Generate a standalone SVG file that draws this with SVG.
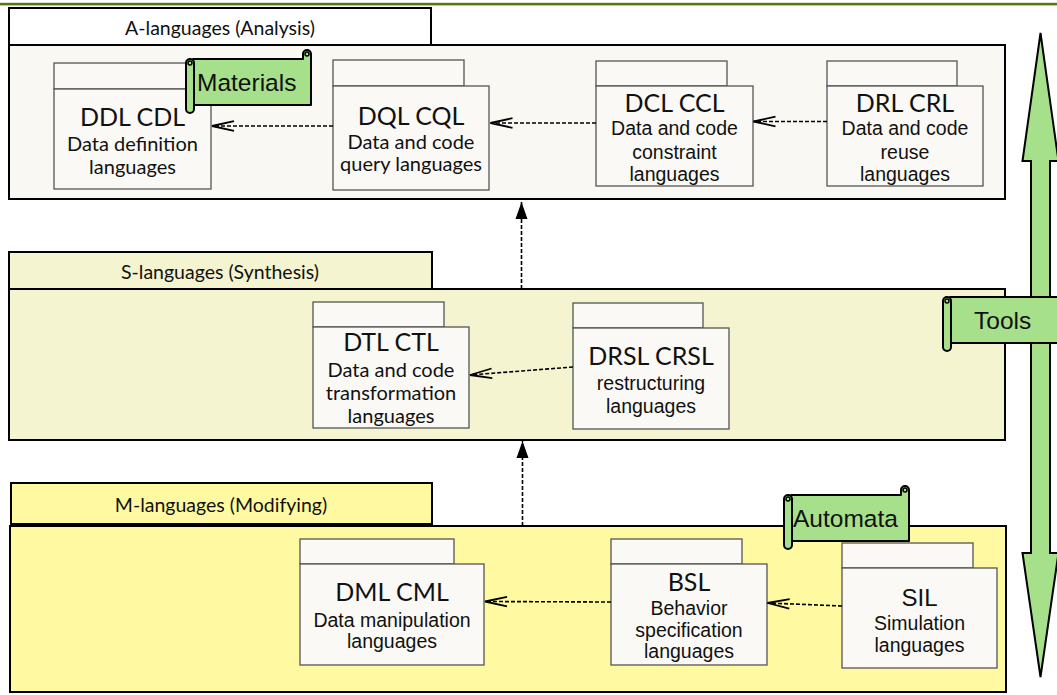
<svg xmlns="http://www.w3.org/2000/svg" width="1057" height="695" viewBox="0 0 1057 695">
<defs>
<style>
.pkg{stroke:#000;stroke-width:2}
.pa{fill:#f9f8f3}.pat{fill:#ffffff}
.ps{fill:#f4f4d0}
.pm{fill:#fffaa2}
.nd{fill:#faf9f5;stroke:#555;stroke-width:1.3}
.ptitle{font-family:Lato,"Liberation Sans",sans-serif;font-size:19.5px;fill:#111;text-anchor:middle}
.ntitle{font-family:Lato,"Liberation Sans",sans-serif;font-size:25px;fill:#111;text-anchor:middle}
.subl{font-family:Lato,"Liberation Sans",sans-serif;font-size:20px;fill:#111;text-anchor:middle}
.suba{font-family:"Liberation Sans",Arial,sans-serif;font-size:19.5px;fill:#111;text-anchor:middle}
.scr{fill:#a6e08b;stroke:#000;stroke-width:2;stroke-linejoin:round}
.scrt{font-family:"Liberation Sans",Arial,sans-serif;font-size:24.5px;fill:#111}
.dash{fill:none;stroke:#000;stroke-width:1.6;stroke-dasharray:4 2}
</style>
<marker id="open" viewBox="-25 -7 27 14" refX="0" refY="0" markerWidth="27" markerHeight="14" markerUnits="userSpaceOnUse" orient="auto">
<path d="M-22,-4.8 L0,0 L-22,4.8" fill="none" stroke="#000" stroke-width="1.8"/>
</marker>
<marker id="filled" viewBox="-19 -8 21 16" refX="0" refY="0" markerWidth="21" markerHeight="16" markerUnits="userSpaceOnUse" orient="auto">
<path d="M-17,-6 L0,0 L-17,6 Z" fill="#000"/>
</marker>
<g id="scroll">
<path class="scr" d="M7,0 H117 V-5 a4,4 0 0 1 8,0 V46 H7 Z"/>
<circle cx="121" cy="-5" r="2" fill="none" stroke="#000" stroke-width="1.5"/>
<rect class="scr" x="0" y="0" width="8" height="54" rx="4"/>
<circle cx="4" cy="4" r="2" fill="none" stroke="#000" stroke-width="1.5"/>
</g>
</defs>

<rect x="0" y="2.8" width="1057" height="2.6" fill="#55780e"/>

<g id="pkg-A">
<rect class="pkg pat" x="9" y="8" width="422" height="37"/>
<rect class="pkg pa" x="9" y="45" width="996" height="154"/>
<text class="ptitle" x="220" y="35">A-languages (Analysis)</text>
</g>
<g id="pkg-S">
<rect class="pkg ps" x="9" y="252" width="423" height="37"/>
<rect class="pkg ps" x="9" y="289" width="996" height="151"/>
<text class="ptitle" x="220" y="279">S-languages (Synthesis)</text>
</g>
<g id="pkg-M">
<rect class="pkg pm" x="11" y="483" width="421" height="41"/>
<rect class="pkg pm" x="10" y="526" width="996" height="166"/>
<text class="ptitle" x="221" y="511.5">M-languages (Modifying)</text>
</g>

<g id="n-ddl">
<rect class="nd" x="54" y="63" width="133" height="26"/>
<rect class="nd" x="54" y="89" width="157" height="100"/>
<text class="ntitle" x="132.5" y="125.5">DDL CDL</text>
<text class="subl" x="132.5" y="150.5">Data definition</text>
<text class="subl" x="132.5" y="173.5">languages</text>
</g>
<g id="n-dql">
<rect class="nd" x="333" y="60" width="131" height="26"/>
<rect class="nd" x="333" y="86" width="156" height="104"/>
<text class="ntitle" x="411" y="124.5">DQL CQL</text>
<text class="subl" x="411" y="148.5">Data and code</text>
<text class="subl" x="411" y="171">query languages</text>
</g>
<g id="n-dcl">
<rect class="nd" x="596" y="61" width="131" height="25"/>
<rect class="nd" x="596" y="86" width="157" height="100"/>
<text class="ntitle" x="674.5" y="111.5">DCL CCL</text>
<text class="suba" x="674.5" y="135">Data and code</text>
<text class="suba" x="674.5" y="159">constraint</text>
<text class="suba" x="674.5" y="181">languages</text>
</g>
<g id="n-drl">
<rect class="nd" x="827" y="61" width="130" height="25"/>
<rect class="nd" x="827" y="86" width="156" height="100"/>
<text class="ntitle" x="905" y="111.5">DRL CRL</text>
<text class="suba" x="905" y="135">Data and code</text>
<text class="suba" x="905" y="159">reuse</text>
<text class="suba" x="905" y="181">languages</text>
</g>
<g id="n-dtl">
<rect class="nd" x="313" y="302" width="131" height="25"/>
<rect class="nd" x="313" y="327" width="156" height="101"/>
<text class="ntitle" x="391" y="351">DTL CTL</text>
<text class="subl" x="391" y="377">Data and code</text>
<text class="subl" x="391" y="400">transformation</text>
<text class="subl" x="391" y="422.5">languages</text>
</g>
<g id="n-drsl">
<rect class="nd" x="573" y="303" width="130" height="25"/>
<rect class="nd" x="573" y="328" width="156" height="101"/>
<text class="ntitle" x="651" y="365">DRSL CRSL</text>
<text class="suba" x="651" y="390">restructuring</text>
<text class="suba" x="651" y="412.5">languages</text>
</g>
<g id="n-dml">
<rect class="nd" x="300" y="539" width="154" height="25"/>
<rect class="nd" x="300" y="564" width="184" height="101"/>
<text class="ntitle" x="392" y="601">DML CML</text>
<text class="suba" x="392" y="626.5">Data manipulation</text>
<text class="suba" x="392" y="648">languages</text>
</g>
<g id="n-bsl">
<rect class="nd" x="611" y="539" width="131" height="25"/>
<rect class="nd" x="611" y="564" width="156" height="101"/>
<text class="ntitle" x="689" y="591">BSL</text>
<text class="suba" x="689" y="615">Behavior</text>
<text class="suba" x="689" y="636.5">specification</text>
<text class="suba" x="689" y="658">languages</text>
</g>
<g id="n-sil">
<rect class="nd" x="842" y="543" width="131" height="25"/>
<rect class="nd" x="842" y="568" width="155" height="100"/>
<text class="ntitle" x="919.5" y="606" style="font-family:'Liberation Sans',Arial,sans-serif;font-size:24px">SIL</text>
<text class="suba" x="919.5" y="630">Simulation</text>
<text class="suba" x="919.5" y="651.5">languages</text>
</g>

<g id="connectors">
<path class="dash" d="M333,126 L212,126" marker-end="url(#open)"/>
<path class="dash" d="M596,123 L490.5,123" marker-end="url(#open)"/>
<path class="dash" d="M827,121.5 L753.5,121.5" marker-end="url(#open)"/>
<path class="dash" d="M573,367 L470,375" marker-end="url(#open)"/>
<path class="dash" d="M611,602 L485,601.5" marker-end="url(#open)"/>
<path class="dash" d="M842,606 L767.5,603" marker-end="url(#open)"/>
<path class="dash" d="M521.5,289 L521.5,202" marker-end="url(#filled)"/>
<path class="dash" d="M522.5,526 L522.5,441" marker-end="url(#filled)"/>
</g>

<g id="tools-arrow">
<polygon points="1040.5,33 1058.5,161 1050,161 1050,553 1058.5,553 1040.5,677 1022.5,553 1031,553 1031,161 1022.5,161" fill="#a6e08b" stroke="#000" stroke-width="2" stroke-linejoin="miter"/>
</g>

<g id="scroll-materials">
<use href="#scroll" transform="translate(186,59)"/>
<text class="scrt" x="197" y="91">Materials</text>
</g>
<g id="scroll-tools">
<use href="#scroll" transform="translate(943,297)"/>
<text class="scrt" x="974" y="329">Tools</text>
</g>
<g id="scroll-automata">
<use href="#scroll" transform="translate(784,495)"/>
<text class="scrt" x="793" y="527">Automata</text>
</g>
</svg>
